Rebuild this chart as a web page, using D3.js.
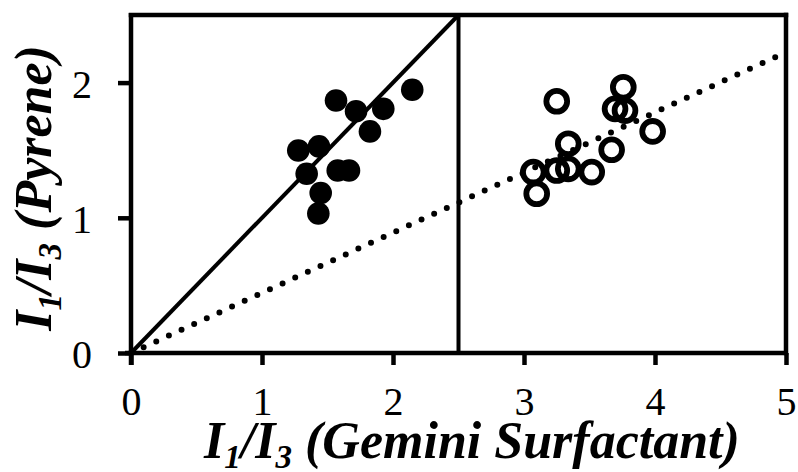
<!DOCTYPE html>
<html><head><meta charset="utf-8">
<script src="https://cdn.jsdelivr.net/npm/d3@7"></script>
<style>body{margin:0;background:#fff;} svg{display:block;}</style>
</head><body>
<script>
// Data
const xTicks = [0, 1, 2, 3, 4, 5];
const yTicks = [0, 1, 2];
const filledX = [1.565, 1.718, 1.926, 2.147, 1.824, 1.277, 1.435, 1.341, 1.578, 1.664, 1.448, 1.430];
const filledY = [1.868, 1.788, 1.806, 1.947, 1.639, 1.498, 1.528, 1.326, 1.350, 1.350, 1.183, 1.032];
const openX = [3.250, 3.758, 3.695, 3.771, 3.982, 3.338, 3.669, 3.071, 3.250, 3.338, 3.517, 3.097];
const openY = [1.862, 1.966, 1.806, 1.793, 1.639, 1.548, 1.503, 1.338, 1.350, 1.362, 1.338, 1.178];
const identityLineX = [0, 2.5];
const identityLineY = [0, 2.5];
const fitLineX = [0, 5];
const fitLineY = [0, 2.225];
const dividerX = 2.5;

const W = 798, H = 472;
const m = {left: 131, right: 12, top: 15, bottom: 119};
const svg = d3.select("body").append("svg").attr("width", W).attr("height", H);
const x = d3.scaleLinear().domain([0, 5]).range([m.left, W - m.right]);
const y = d3.scaleLinear().domain([0, 2.5]).range([H - m.bottom, m.top]);

const serif = "'Liberation Serif','Times New Roman',serif";
const line = d3.line().x(d => x(d[0])).y(d => y(d[1]));

// divider
svg.append("line").attr("x1", x(dividerX)).attr("x2", x(dividerX))
  .attr("y1", y(0)).attr("y2", y(2.5)).attr("stroke", "#000").attr("stroke-width", 4);

// fit lines
svg.append("path").datum(d3.zip(identityLineX, identityLineY)).attr("d", line)
  .attr("fill", "none").attr("stroke", "#000").attr("stroke-width", 4);
svg.append("path").datum(d3.zip(fitLineX, fitLineY)).attr("d", line)
  .attr("fill", "none").attr("stroke", "#000").attr("stroke-width", 6)
  .attr("stroke-linecap", "round").attr("stroke-dasharray", "0,13.9");

// points
svg.append("g").selectAll("circle").data(d3.zip(filledX, filledY)).join("circle")
  .attr("cx", d => x(d[0])).attr("cy", d => y(d[1])).attr("r", 11.3).attr("fill", "#000");
svg.append("g").selectAll("circle").data(d3.zip(openX, openY)).join("circle")
  .attr("cx", d => x(d[0])).attr("cy", d => y(d[1])).attr("r", 10.4)
  .attr("fill", "none").attr("stroke", "#000").attr("stroke-width", 5.8);

// frame
svg.append("line").attr("x1", x(0)).attr("x2", x(5)).attr("y1", y(2.5)).attr("y2", y(2.5))
  .attr("stroke", "#000").attr("stroke-width", 4.5).attr("stroke-linecap", "square");
svg.append("line").attr("x1", x(5)).attr("x2", x(5)).attr("y1", y(0)).attr("y2", y(2.5))
  .attr("stroke", "#000").attr("stroke-width", 4.5).attr("stroke-linecap", "square");

// axes
const xAxis = svg.append("g").attr("transform", `translate(0,${y(0)})`)
  .call(d3.axisBottom(x).tickValues(xTicks).tickFormat(d3.format("d")).tickSize(12).tickPadding(22));
const yAxis = svg.append("g").attr("transform", `translate(${x(0)},0)`)
  .call(d3.axisLeft(y).tickValues(yTicks).tickFormat(d3.format("d")).tickSize(13).tickPadding(26));
[xAxis, yAxis].forEach(g => {
  g.select(".domain").attr("stroke-width", 4.5).attr("stroke", "#000");
  g.selectAll(".tick line").attr("stroke-width", 4.5).attr("stroke", "#000");
  g.selectAll(".tick text").attr("font-family", serif).attr("font-size", 40).attr("fill", "#000");
});
xAxis.select(".domain").attr("d", `M${x(0)-6},0H${x(5)+2}`);
yAxis.select(".domain").attr("d", `M0,${y(0)+12}V${y(2.5)-2}`);
yAxis.selectAll(".tick text").attr("dy", "0.36em");

// titles
function title(sel, main) {
  sel.attr("font-family", serif).attr("font-size", 52).attr("font-weight", "bold")
    .attr("font-style", "italic").attr("fill", "#000");
  sel.append("tspan").text("I");
  sel.append("tspan").text("1").attr("font-size", 33).attr("dy", "0.3em");
  sel.append("tspan").text("/I").attr("dy", "-0.19em");
  sel.append("tspan").text("3").attr("font-size", 33).attr("dy", "0.3em");
  sel.append("tspan").text(" " + main).attr("dy", "-0.19em");
}
title(svg.append("text").attr("text-anchor", "middle")
  .attr("x", 472).attr("y", 458), "(Gemini Surfactant)");
title(svg.append("text").attr("text-anchor", "middle")
  .attr("transform", `translate(51,188) rotate(-90)`), "(Pyrene)");
</script>
</body></html>
